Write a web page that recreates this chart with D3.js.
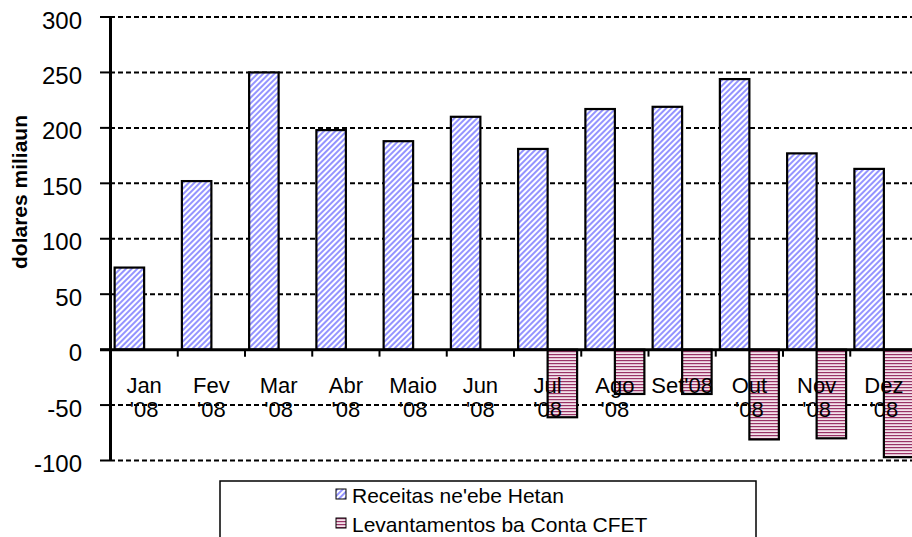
<!DOCTYPE html>
<html>
<head>
<meta charset="utf-8">
<script src="https://cdn.jsdelivr.net/npm/d3@7"></script>
<style>
  body { margin: 0; background: #fff; }
  text { font-family: "Liberation Sans", Arial, sans-serif; fill: #000; }
</style>
</head>
<body>
<div id="chart"></div>
<script>
// data
const months = ['Jan', 'Fev', 'Mar', 'Abr', 'Maio', 'Jun', 'Jul', 'Ago', 'Set', 'Out', 'Nov', 'Dez'];
const monthLabels = [["Jan", "'08"], ["Fev", "'08"], ["Mar", "'08"], ["Abr", "'08"], ["Maio", "'08"], ["Jun", "'08"],
                     ["Jul", "'08"], ["Ago", "'08"], ["Set'08"], ["Out", "'08"], ["Nov", "'08"], ["Dez", "'08"]];
const receitas = [74, 152, 250, 198, 188, 210, 181, 217, 219, 244, 177, 163];
const levantamentos = [0, 0, 0, 0, 0, 0, -61, -40, -40, -81, -80, -97];
const seriesNames = ["Receitas ne'ebe Hetan", 'Levantamentos ba Conta CFET'];
const yTicks = [300, 250, 200, 150, 100, 50, 0, -50, -100];

const width = 912, height = 537;
const svg = d3.select('#chart').append('svg').attr('width', width).attr('height', height);

// patterns
const defs = svg.append('defs');
const pBlue = defs.append('pattern').attr('id', 'hatch-blue').attr('patternUnits', 'userSpaceOnUse')
   .attr('width', 4).attr('height', 4).attr('patternTransform', 'rotate(45)');
pBlue.append('rect').attr('width', 4).attr('height', 4).attr('fill', '#ffffff');
pBlue.append('rect').attr('width', 2).attr('height', 4).attr('fill', '#9494ff');

const pRed = defs.append('pattern').attr('id', 'hatch-red').attr('patternUnits', 'userSpaceOnUse')
   .attr('width', 4).attr('height', 3);
pRed.append('rect').attr('width', 4).attr('height', 3).attr('fill', '#f4e2eb');
pRed.append('rect').attr('width', 4).attr('height', 1.2).attr('fill', '#993366');

const fills = ['url(#hatch-blue)', 'url(#hatch-red)'];

// scales
const xScale = d3.scaleBand(months, [110.5, 917.5]);
const inner = d3.scaleBand([0, 1], [0, xScale.bandwidth()]).paddingOuter(0.14);
const yScale = d3.scaleLinear([-100, 300], [460.5, 17]);

// gridlines
svg.append('g').selectAll('line').data(yTicks.filter(d => d !== 0)).join('line')
   .attr('x1', 110).attr('x2', width)
   .attr('y1', d => yScale(d)).attr('y2', d => yScale(d))
   .attr('stroke', '#000').attr('stroke-width', 2).attr('stroke-dasharray', '5 3');

// bars
const rows = months.map((m, i) => [receitas[i], levantamentos[i]]);
const groups = svg.append('g').selectAll('g').data(rows).join('g')
   .attr('transform', (d, i) => `translate(${xScale(months[i])},0)`);
groups.selectAll('rect').data(d => d.map((v, k) => ({v, k}))).join('rect')
   .attr('x', d => inner(d.k))
   .attr('width', inner.bandwidth())
   .attr('y', d => yScale(Math.max(0, d.v)))
   .attr('height', d => Math.abs(yScale(d.v) - yScale(0)))
   .attr('fill', d => fills[d.k])
   .attr('stroke', '#000').attr('stroke-width', 2.2);

// y axis
svg.append('line').attr('x1', 110.5).attr('x2', 110.5).attr('y1', yScale(300)).attr('y2', yScale(-100))
   .attr('stroke', '#000').attr('stroke-width', 3);
svg.append('g').selectAll('line').data(yTicks).join('line')
   .attr('x1', 100).attr('x2', 110).attr('y1', d => yScale(d)).attr('y2', d => yScale(d))
   .attr('stroke', '#000').attr('stroke-width', 2);
svg.append('g').selectAll('text').data(yTicks).join('text')
   .attr('x', 82).attr('y', d => yScale(d) + 11.5)
   .attr('text-anchor', 'end').style('font-size', '24px')
   .text(d => d);

// x axis at zero
svg.append('line').attr('x1', 100).attr('x2', width).attr('y1', yScale(0)).attr('y2', yScale(0))
   .attr('stroke', '#000').attr('stroke-width', 3);
svg.append('g').selectAll('line').data(months.slice(1)).join('line')
   .attr('x1', d => xScale(d)).attr('x2', d => xScale(d))
   .attr('y1', yScale(0)).attr('y2', yScale(0) + 7)
   .attr('stroke', '#000').attr('stroke-width', 2);

// month labels
const lbl = svg.append('g').selectAll('text').data(monthLabels).join('text')
   .attr('x', (d, i) => xScale(months[i]) + xScale.bandwidth() / 2)
   .attr('y', 393)
   .attr('text-anchor', 'middle').style('font-size', '22px');
lbl.selectAll('tspan').data(d => d).join('tspan')
   .attr('x', function() { return this.parentNode.getAttribute('x'); })
   .attr('dy', (d, i) => i === 0 ? 0 : 24)
   .text(d => d);

// y title
svg.append('text').attr('transform', 'translate(27,192) rotate(-90)')
   .attr('text-anchor', 'middle').style('font-size', '21px').style('font-weight', 'bold')
   .text('dolares miliaun');

// legend
svg.append('rect').attr('x', 220).attr('y', 481).attr('width', 536).attr('height', 80)
   .attr('fill', '#fff').attr('stroke', '#000').attr('stroke-width', 1.5);
const leg = svg.append('g').selectAll('g').data(seriesNames).join('g')
   .attr('transform', (d, i) => `translate(336,${489 + i * 29})`);
leg.append('rect').attr('width', 10).attr('height', 10)
   .attr('fill', (d, i) => fills[i]).attr('stroke', '#000').attr('stroke-width', 1);
leg.append('text').attr('x', 16).attr('y', 14).style('font-size', '21px').text(d => d);
</script>
</body>
</html>
